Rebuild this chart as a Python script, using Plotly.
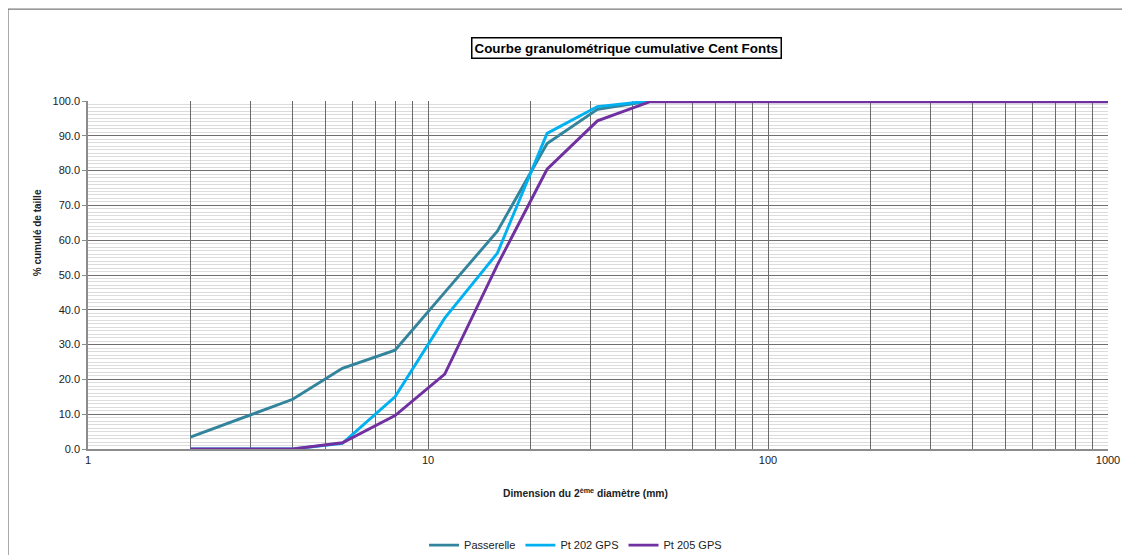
import plotly.graph_objects as go

# ---- data ----
diam = [2, 4, 5.6, 8, 11.2, 16, 22.4, 31.5, 45, 1000]
passerelle = [3.4, 14.3, 23.2, 28.4, 45.0, 62.6, 87.8, 97.6, 100.0, 100.0]
pt202 = [0.0, 0.0, 1.6, 15.0, 37.6, 56.3, 90.7, 98.4, 100.0, 100.0]
pt205 = [0.0, 0.0, 1.8, 9.6, 21.5, 52.9, 80.4, 94.3, 99.8, 99.8]
series_names = ["Passerelle", "Pt 202 GPS", "Pt 205 GPS"]
series_colors = ["#31849B", "#00B0F0", "#7030A0"]

x_labels = [1, 10, 100, 1000]
x_grid = [m * d for d in (1, 10, 100) for m in range(1, 10)] + [1000]
y_ticks = list(range(0, 101, 10))

FONT = "Liberation Sans, Arial, sans-serif"

fig = go.Figure()
for name, ys, col in zip(series_names, [passerelle, pt202, pt205], series_colors):
    fig.add_trace(go.Scatter(x=diam, y=ys, mode="lines", name=name,
                             line=dict(color=col, width=2.9)))

# page has an 8px body margin -> figure is 1122x547 placed at (8,8)
fig.update_layout(
    width=1122, height=547,
    margin=dict(l=80, r=22, t=93, b=106),
    paper_bgcolor="white", plot_bgcolor="white",
    font=dict(family=FONT, size=11, color="#222"),
    showlegend=True,
    legend=dict(orientation="h", x=0.478, xanchor="center",
                yref="container", y=0.018, yanchor="middle",
                font=dict(size=11, color="#222"), itemwidth=30, tracegroupgap=0,
                bgcolor="rgba(0,0,0,0)"),
)

fig.update_xaxes(
    type="log", range=[0, 3], automargin=False,
    tickmode="array", tickvals=x_grid,
    ticktext=[str(v) if v in x_labels else "" for v in x_grid],
    showgrid=True, gridcolor="#6a6a6a", gridwidth=1,
    showline=True, linecolor="#8c8c8c", linewidth=2,
    ticks="", tickfont=dict(size=11, color="#222"),
    zeroline=False,
)
fig.update_yaxes(
    range=[0, 100], automargin=False,
    tickmode="array", tickvals=y_ticks, ticktext=[f"{v:.1f}" for v in y_ticks],
    showgrid=True, gridcolor="#6f6f6f", gridwidth=1,
    minor=dict(dtick=1, showgrid=True, gridcolor="#dcdcdc", gridwidth=1),
    showline=True, linecolor="#8c8c8c", linewidth=1.5,
    ticks="outside", ticklen=4, tickcolor="#8c8c8c",
    tickfont=dict(size=11, color="#222"),
    zeroline=False,
)

# outer chart border (cut off at right/bottom)
fig.add_shape(type="rect", xref="paper", yref="paper",
              x0=-0.0784, x1=1.03, y0=-0.33, y1=1.264,
              line=dict(color="#7a7a7a", width=1.2), layer="below")

# title in box
fig.add_annotation(xref="paper", yref="paper", x=0.528, y=1.152,
                   text="<b>Courbe granulométrique cumulative Cent Fonts</b>",
                   showarrow=False, font=dict(size=13.4, color="black", family=FONT),
                   bordercolor="black", borderwidth=1.5, borderpad=2,
                   bgcolor="white", xanchor="center", yanchor="middle")

# axis titles
fig.add_annotation(xref="paper", yref="paper", x=0.488, y=-0.124,
                   text="<b>Dimension du 2<sup>ème</sup> diamètre (mm)</b>",
                   showarrow=False, font=dict(size=10.3, color="#222", family=FONT),
                   xanchor="center", yanchor="middle")
fig.add_annotation(xref="paper", yref="paper", x=-0.05, y=0.62,
                   text="<b>% cumulé de taille</b>", textangle=-90,
                   showarrow=False, font=dict(size=10, color="#222", family=FONT),
                   xanchor="center", yanchor="middle")

fig.write_html("out.html")
